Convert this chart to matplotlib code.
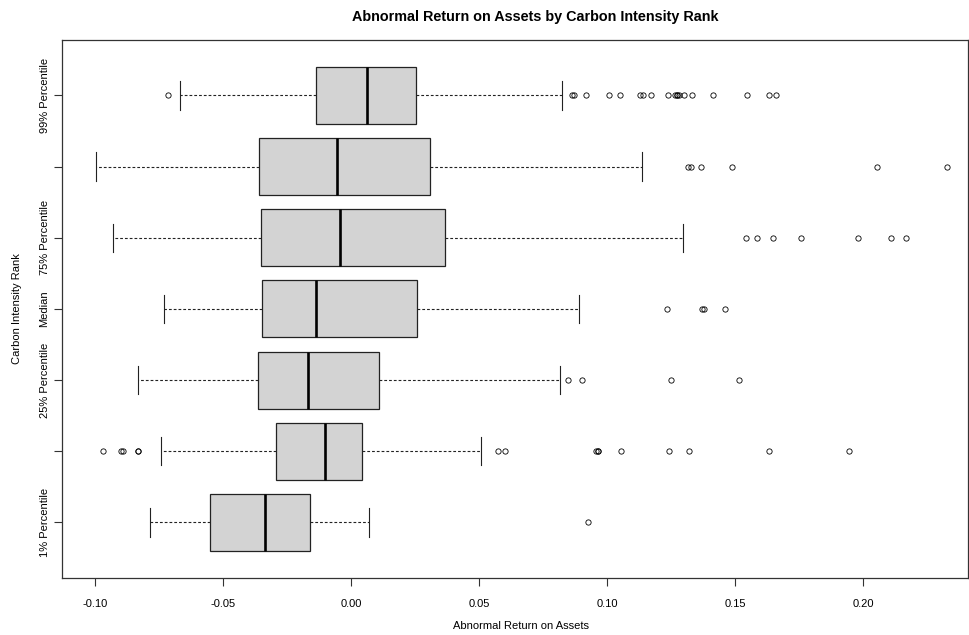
import matplotlib.pyplot as plt

plt.rcParams['font.family'] = ['Liberation Sans', 'DejaVu Sans']

# carbon intensity rank groups, bottom to top
labels = ["1% Percentile", "", "25% Percentile", "Median", "75% Percentile", "", "99% Percentile"]

# five-number summaries per group (abnormal ROA)
whislo = [-0.0788, -0.0745, -0.0835, -0.0733, -0.0930, -0.0996, -0.0670]
q1 = [-0.0552, -0.0296, -0.0366, -0.0348, -0.0352, -0.0361, -0.0137]
med = [-0.0336, -0.0101, -0.0169, -0.0139, -0.0044, -0.0055, 0.0063]
q3 = [-0.0162, 0.0040, 0.0108, 0.0255, 0.0366, 0.0307, 0.0251]
whishi = [0.0071, 0.0505, 0.0815, 0.0890, 0.1298, 0.1135, 0.0822]

# outliers beyond the whiskers
fliers = [
    [0.0926],
    [-0.0969, -0.0901, -0.0892, -0.0833, -0.0833, 0.0573, 0.0600, 0.0958, 0.0963, 0.0963,
     0.1055, 0.1241, 0.1318, 0.1634, 0.1946],
    [0.0847, 0.0902, 0.1248, 0.1516],
    [0.1235, 0.1371, 0.1380, 0.1459],
    [0.1541, 0.1586, 0.1647, 0.1758, 0.1980, 0.2107, 0.2169],
    [0.1316, 0.1328, 0.1368, 0.1486, 0.2055, 0.2327],
    [-0.0717, 0.0863, 0.0872, 0.0917, 0.1006, 0.1049, 0.1130, 0.1139, 0.1171, 0.1239,
     0.1266, 0.1273, 0.1273, 0.1280, 0.1300, 0.1330, 0.1414, 0.1548, 0.1634, 0.1661],
]

stats = []
for i in range(len(labels)):
    stats.append(dict(whislo=whislo[i], q1=q1[i], med=med[i], q3=q3[i],
                      whishi=whishi[i], fliers=fliers[i]))

fig = plt.figure(figsize=(9.7, 6.35), dpi=100)
ax = fig.add_axes([0.064, 0.09, 0.934, 0.847])

ax.bxp(stats, positions=range(1, 8), widths=0.8, vert=False, patch_artist=True,
       boxprops=dict(facecolor="#d3d3d3", edgecolor="#222222", linewidth=0.9),
       medianprops=dict(color="black", linewidth=1.9),
       whiskerprops=dict(color="#222222", linewidth=0.8, linestyle=(0, (2.5, 1.8))),
       capprops=dict(color="#222222", linewidth=0.8),
       flierprops=dict(marker="o", markersize=3.8, markerfacecolor="none",
                       markeredgecolor="black", markeredgewidth=0.6))

ax.set_xlim(-0.113, 0.241)
ax.set_ylim(0.22, 7.78)

ax.set_xticks([-0.10, -0.05, 0.00, 0.05, 0.10, 0.15, 0.20])
ax.set_xticklabels(["-0.10", "-0.05", "0.00", "0.05", "0.10", "0.15", "0.20"], fontsize=8)
ax.set_yticks(range(1, 8))
ax.set_yticklabels(labels, rotation=90, va="center", fontsize=8)
ax.tick_params(axis="both", length=6, width=0.8, color="#333333")
ax.tick_params(axis="x", pad=9)
ax.tick_params(axis="y", pad=3)

for s in ax.spines.values():
    s.set_linewidth(0.9)
    s.set_color("#333333")

ax.set_xlabel("Abnormal Return on Assets", fontsize=8, labelpad=9, x=0.506)
ax.set_ylabel("Carbon Intensity Rank", fontsize=8, labelpad=13)
ax.set_title("Abnormal Return on Assets by Carbon Intensity Rank",
             fontsize=10.4, fontweight="bold", pad=14, x=0.522)

fig.savefig("out.png", dpi=100)
